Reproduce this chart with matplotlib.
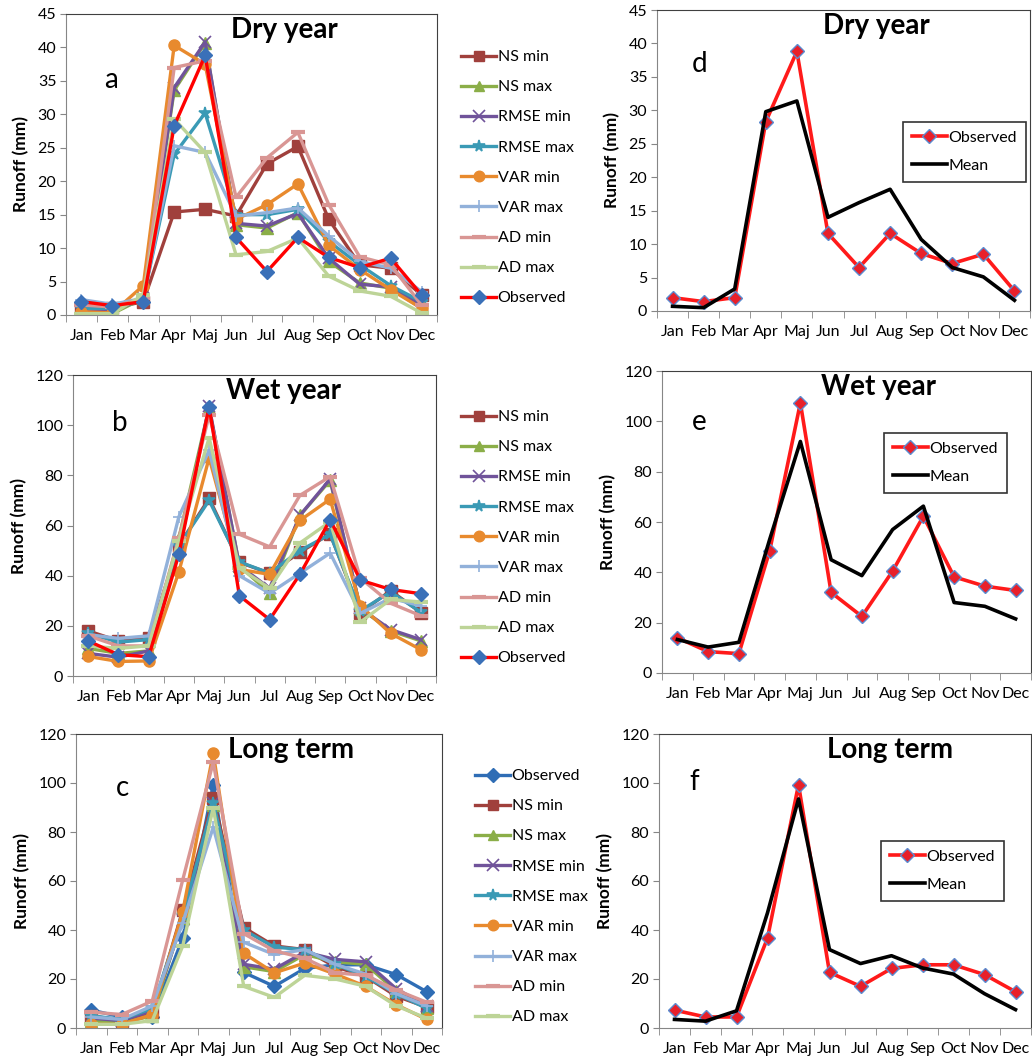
import matplotlib
matplotlib.use('Agg')
import matplotlib.pyplot as plt
import numpy as np

plt.rcParams['font.family'] = ['Lato', 'DejaVu Sans']

months = ['Jan', 'Feb', 'Mar', 'Apr', 'Maj', 'Jun', 'Jul', 'Aug', 'Sep', 'Oct', 'Nov', 'Dec']

# dry year (a, d)
dry_obs      = [2.0, 1.4, 2.0, 28.3, 38.8, 11.6, 6.5, 11.6, 8.6, 7.1, 8.5, 3.0]
dry_mean     = [0.7, 0.5, 3.3, 29.8, 31.4, 14.0, 16.2, 18.2, 10.7, 6.5, 5.1, 1.6]
dry_ns_min   = [1.2, 1.0, 2.0, 15.4, 15.8, 14.8, 22.6, 25.2, 14.3, 7.5, 7.0, 3.0]
dry_ns_max   = [0.2, 0.2, 2.5, 33.6, 40.7, 13.5, 13.0, 15.3, 8.0, 4.8, 4.0, 1.0]
dry_rmse_min = [0.5, 0.5, 2.5, 34.0, 40.8, 13.7, 13.3, 15.2, 8.5, 4.6, 4.2, 1.5]
dry_rmse_max = [1.0, 1.0, 2.5, 24.0, 30.2, 15.0, 15.0, 15.8, 11.0, 7.5, 4.4, 2.0]
dry_var_min  = [0.5, 0.3, 4.4, 40.3, 37.5, 14.3, 16.5, 19.6, 10.4, 6.8, 3.8, 1.0]
dry_var_max  = [2.3, 1.6, 2.5, 25.3, 24.3, 14.8, 15.3, 16.0, 11.8, 8.0, 7.0, 3.5]
dry_ad_min   = [1.5, 1.2, 2.5, 37.0, 38.0, 17.6, 23.5, 27.3, 16.5, 8.7, 7.5, 1.5]
dry_ad_max   = [0.2, 0.2, 3.0, 29.3, 24.3, 9.0, 9.5, 11.5, 5.8, 3.6, 2.8, 0.3]

# wet year (b, e)
wet_obs      = [14.0, 8.5, 7.7, 48.5, 107.3, 32.0, 22.5, 40.5, 62.3, 38.2, 34.5, 32.8]
wet_mean     = [13.3, 10.3, 12.2, 53.0, 92.0, 45.0, 38.7, 57.0, 66.3, 28.0, 26.5, 21.5]
wet_ns_min   = [18.0, 14.0, 15.0, 52.0, 70.8, 45.3, 41.0, 49.3, 56.7, 25.3, 34.0, 25.3]
wet_ns_max   = [11.0, 9.0, 10.0, 55.0, 107.0, 44.0, 33.0, 64.0, 78.0, 27.0, 18.0, 14.0]
wet_rmse_min = [9.0, 7.5, 10.0, 50.0, 107.5, 44.0, 35.0, 64.0, 78.5, 27.0, 18.5, 14.5]
wet_rmse_max = [17.0, 13.5, 14.5, 52.0, 70.0, 45.5, 41.0, 50.0, 56.5, 26.0, 33.5, 25.5]
wet_var_min  = [7.8, 5.8, 6.0, 41.5, 87.0, 42.5, 40.5, 62.0, 70.5, 28.0, 17.0, 10.5]
wet_var_max  = [16.5, 15.0, 16.0, 63.5, 90.0, 40.0, 33.0, 41.0, 49.0, 25.0, 31.0, 28.0]
wet_ad_min   = [16.0, 12.0, 12.0, 55.0, 104.0, 56.5, 51.5, 72.0, 79.5, 39.0, 29.0, 24.0]
wet_ad_max   = [12.0, 11.0, 12.0, 54.0, 95.0, 43.0, 35.0, 53.0, 61.5, 21.5, 30.5, 29.5]

# long term (c, f)
lt_obs      = [7.3, 4.5, 4.5, 36.7, 99.3, 22.7, 17.0, 24.3, 25.8, 25.8, 21.8, 14.8]
lt_mean     = [3.5, 2.8, 7.0, 47.0, 93.5, 32.0, 26.3, 29.5, 24.5, 22.0, 14.0, 7.5]
lt_ns_min   = [5.0, 3.0, 6.0, 48.0, 94.0, 41.0, 33.5, 32.0, 25.0, 21.0, 13.0, 8.5]
lt_ns_max   = [3.0, 2.0, 5.0, 45.0, 91.0, 25.0, 23.0, 30.0, 27.0, 26.0, 15.0, 8.0]
lt_rmse_min = [4.0, 3.0, 7.0, 44.0, 92.0, 26.0, 24.0, 31.0, 28.0, 27.0, 16.0, 9.0]
lt_rmse_max = [5.0, 3.5, 8.0, 46.0, 92.0, 40.0, 33.0, 32.0, 26.0, 21.0, 14.0, 8.0]
lt_var_min  = [1.5, 1.5, 5.5, 47.5, 112.3, 30.5, 22.5, 26.5, 22.0, 17.0, 9.5, 3.5]
lt_var_max  = [4.5, 3.5, 9.0, 43.0, 82.0, 35.0, 30.0, 32.0, 26.0, 22.0, 14.0, 9.0]
lt_ad_min   = [6.5, 5.5, 11.0, 60.5, 108.5, 38.5, 31.5, 28.5, 22.5, 21.5, 15.5, 10.5]
lt_ad_max   = [1.5, 1.5, 3.0, 33.5, 90.0, 17.0, 12.5, 21.5, 20.0, 17.0, 9.0, 4.0]

labels = ['NS min', 'NS max', 'RMSE min', 'RMSE max', 'VAR min', 'VAR max', 'AD min', 'AD max']
colors = ['#A0403C', '#8BAE48', '#70539A', '#3A9AB5', '#E88A2E', '#92B1DA', '#D99694', '#BDD497']
markers = ['s', '^', 'x', '*', 'o', '+', '_', '_']

x = np.arange(1, 13)
W, H = 1032, 1061
fig = plt.figure(figsize=(W / 100, H / 100), dpi=100)


def pos(l, r, t, b):
    return [l / W, 1 - b / H, (r - l) / W, (b - t) / H]


def style_axes(ax, ymax, step, title, letter, tx, lx, ly):
    ax.set_xlim(0.5, 12.5)
    ax.set_ylim(0, ymax)
    ax.set_yticks(np.arange(0, ymax + 1, step))
    ax.set_xticks(x)
    ax.set_xticklabels(months)
    ax.set_xticks(np.arange(0.5, 13, 1), minor=True)
    ax.tick_params(axis='x', which='major', length=0, pad=10, labelsize=11.5)
    ax.tick_params(axis='x', which='minor', length=5, color='#868686', direction='out')
    ax.tick_params(axis='y', length=4, color='#868686', labelsize=11.5, pad=3)
    for s in ['left', 'bottom']:
        ax.spines[s].set_color('#868686')
    for s in ['top', 'right']:
        ax.spines[s].set_color('#404040')
    ax.set_ylabel('Runoff (mm)', fontsize=12.5, fontweight='bold', labelpad=6)
    ax.text(tx, 0.947, title, transform=ax.transAxes, ha='center', va='center',
            fontsize=20, fontweight='bold')
    ax.text(lx, ly, letter, transform=ax.transAxes, ha='center', va='center', fontsize=20)


def model_panel(ax, series, obs, obs_first, obs_color):
    handles = []
    if obs_first:
        h, = ax.plot(x, obs, color=obs_color, lw=2.4, marker='D', ms=7,
                     mfc=obs_color, mec=obs_color, label='Observed')
        handles.append(h)
    for vals, lab, c, m in zip(series, labels, colors, markers):
        kw = dict(ms=8, mfc=c, mec=c)
        if m in ('x', '+', '*'):
            kw['mew'] = 1.2
            kw['ms'] = 9
        if m == '_':
            kw['mew'] = 3
            kw['ms'] = 10
        h, = ax.plot(x, vals, color=c, lw=2.4, marker=m, label=lab, **kw)
        handles.append(h)
    if not obs_first:
        h, = ax.plot(x, obs, color='#FF0000', lw=2.4, marker='D', ms=7,
                     mfc='#3A70B8', mec='#3A70B8', label='Observed')
        handles.append(h)
    return handles


def obs_mean_panel(ax, obs, mean, anchor):
    ax.plot(x, obs, color='#FF1A1A', lw=2.6, marker='D', ms=7,
            mfc='#E8202A', mec='#5B8BD0', mew=1.0, label='Observed')
    ax.plot(x, mean, color='black', lw=2.6, label='Mean')
    leg = ax.legend(loc='upper left', bbox_to_anchor=anchor, bbox_transform=fig.transFigure,
                    fontsize=11.5, frameon=True, fancybox=False, edgecolor='black',
                    handlelength=2.2, handletextpad=0.1, labelspacing=0.85,
                    borderpad=0.55, borderaxespad=0)
    leg.get_frame().set_linewidth(1.2)


def side_legend(ax, handles, anchor):
    ax.legend(handles=handles, loc='upper left', bbox_to_anchor=anchor,
              bbox_transform=fig.transFigure, fontsize=11.5, frameon=False,
              handlelength=2.2, handletextpad=0.1, labelspacing=1.0,
              borderpad=0, borderaxespad=0, markerscale=0.95)


# a
ax_a = fig.add_axes(pos(66, 437, 14, 315))
hs = model_panel(ax_a, [dry_ns_min, dry_ns_max, dry_rmse_min, dry_rmse_max,
                        dry_var_min, dry_var_max, dry_ad_min, dry_ad_max],
                 dry_obs, False, None)
style_axes(ax_a, 45, 5, 'Dry year', 'a', 0.588, 0.12, 0.78)
side_legend(ax_a, hs, (461 / W, 1 - 50 / H))

# d
ax_d = fig.add_axes(pos(657, 1030, 10, 311))
obs_mean_panel(ax_d, dry_obs, dry_mean, (903 / W, 1 - 122 / H))
style_axes(ax_d, 45, 5, 'Dry year', 'd', 0.587, 0.113, 0.82)

# b
ax_b = fig.add_axes(pos(73, 436, 375, 676))
hs = model_panel(ax_b, [wet_ns_min, wet_ns_max, wet_rmse_min, wet_rmse_max,
                        wet_var_min, wet_var_max, wet_ad_min, wet_ad_max],
                 wet_obs, False, None)
style_axes(ax_b, 120, 20, 'Wet year', 'b', 0.58, 0.13, 0.84)
side_legend(ax_b, hs, (461 / W, 1 - 410 / H))

# e
ax_e = fig.add_axes(pos(662, 1031, 371, 673))
obs_mean_panel(ax_e, wet_obs, wet_mean, (884 / W, 1 - 433 / H))
style_axes(ax_e, 120, 20, 'Wet year', 'e', 0.588, 0.10, 0.83)

# c
ax_c = fig.add_axes(pos(76, 442, 734, 1028))
hs = model_panel(ax_c, [lt_ns_min, lt_ns_max, lt_rmse_min, lt_rmse_max,
                        lt_var_min, lt_var_max, lt_ad_min, lt_ad_max],
                 lt_obs, True, '#2F6DB5')
style_axes(ax_c, 120, 20, 'Long term', 'c', 0.587, 0.126, 0.816)
side_legend(ax_c, hs, (475 / W, 1 - 769 / H))

# f
ax_f = fig.add_axes(pos(659, 1031, 734, 1028))
obs_mean_panel(ax_f, lt_obs, lt_mean, (881 / W, 1 - 841 / H))
style_axes(ax_f, 120, 20, 'Long term', 'f', 0.62, 0.094, 0.837)

fig.savefig('out.png', dpi=100)
